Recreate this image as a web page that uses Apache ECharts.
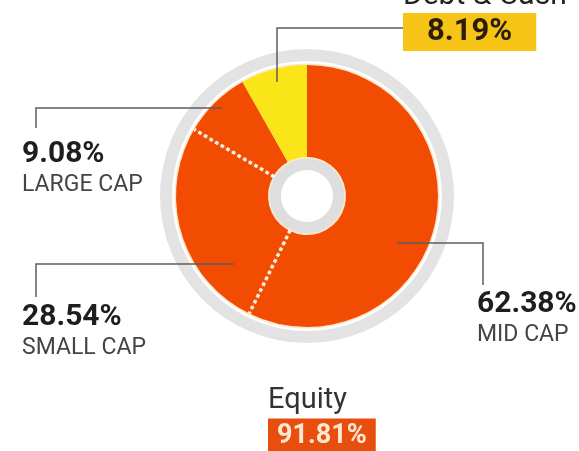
<!DOCTYPE html>
<html>
<head>
<meta charset="utf-8">
<script src="https://cdn.jsdelivr.net/npm/echarts@6/dist/echarts.min.js"></script>
<style>
  html, body { margin: 0; padding: 0; background: #ffffff; }
  #chart { width: 579px; height: 451px; }
</style>
</head>
<body>
<div id="chart"></div>
<script>
// Portfolio split: equity vs debt & cash, with the equity part broken down by market cap
const assetClasses = ['Equity', 'Debt & Cash'];
const assetShares = [91.81, 8.19];               // % of the whole portfolio
const capSegments = ['MID CAP', 'SMALL CAP', 'LARGE CAP'];
const capShares = [62.38, 28.54, 9.08];          // % of the equity part

const FONT = 'Roboto, "Noto Sans", sans-serif';
const ORANGE = '#f14c02';
const YELLOW = '#fae519';
const CENTER = [307, 196];
const R_IN = 39, R_OUT = 131;

// slice values expressed as share of the whole portfolio
const equityShare = assetShares[0];
const pieData = capSegments.map((name, i) => ({
  name: name,
  value: capShares[i] * equityShare / 100,
  labelValue: capShares[i],
  itemStyle: { color: ORANGE }
}));
pieData.push({
  name: assetClasses[1],
  value: assetShares[1],
  labelValue: assetShares[1],
  itemStyle: { color: YELLOW }
});

// where each annotation sits and how its leader line is routed
const labelSpots = {
  'MID CAP':     { x: 477, y: 287, line: [[397, 243], [483, 243], [483, 285]] },
  'SMALL CAP':   { x: 22,  y: 300, line: [[234, 264], [36, 264], [36, 297]] },
  'LARGE CAP':   { x: 22,  y: 137, line: [[222, 108], [36, 108], [36, 128]] },
  'Debt & Cash': { x: 403, y: 13,  line: [[277, 82], [277, 28], [403, 28]] }
};

// label-only copy of the slices, drawn above the donut so leader lines run over it
const labelData = pieData.map(d => {
  const item = {
    name: d.name,
    value: d.value,
    labelValue: d.labelValue,
    itemStyle: { color: 'rgba(0,0,0,0)' }
  };
  if (d.name === assetClasses[1]) {
    item.label = {
      formatter: p => '{box|' + p.data.labelValue.toFixed(2) + '%}',
      backgroundColor: '#f5c417',
      padding: [4, 24, 4, 24]
    };
  }
  return item;
});

// dotted separators between the cap segments (cumulative position, 0-100)
const total = pieData.reduce((s, d) => s + d.value, 0);
const boundaries = [];
let acc = 0;
for (let i = 0; i < capSegments.length - 1; i++) {
  acc += pieData[i].value;
  boundaries.push(acc / total * 100);
}
const rInFrac = (R_IN - 1) / R_OUT;
const separatorSeries = boundaries.map(a => ({
  type: 'line',
  coordinateSystem: 'polar',
  data: [[rInFrac, a], [1.01, a]],
  symbol: 'none',
  silent: true,
  z: 10,
  lineStyle: { color: '#fff4e4', width: 3.5, type: [3.5, 3], cap: 'butt' }
}));

const ring = (radius, color) => ({
  type: 'pie', silent: true, center: CENTER, radius: radius,
  label: { show: false }, labelLine: { show: false },
  emphasis: { disabled: true },
  data: [{ value: 1, itemStyle: { color: color } }], z: 1
});

const chart = echarts.init(document.getElementById('chart'), null, { renderer: 'canvas' });
chart.setOption({
  animation: false,
  backgroundColor: '#ffffff',
  title: [
    {
      left: 263, top: 376,
      text: '{name|' + assetClasses[0] + '}\n{box|' + assetShares[0].toFixed(2) + '%}',
      textStyle: {
        fontWeight: 'normal',
        rich: {
          name: { fontFamily: FONT, fontSize: 29, fontWeight: 'normal', color: '#333333', lineHeight: 40 },
          box: { fontFamily: FONT, fontSize: 27, fontWeight: 'bold', color: '#fde9d3',
                 backgroundColor: '#e84f0e', padding: [4, 9, 4, 9], lineHeight: 30 }
        }
      }
    },
    {
      left: 398, top: -24,
      text: assetClasses[1],
      textStyle: { fontFamily: FONT, fontSize: 30, fontWeight: 'normal', color: '#222222' }
    }
  ],
  polar: { center: CENTER, radius: R_OUT },
  angleAxis: { type: 'value', min: 0, max: 100, startAngle: 90, clockwise: true, show: false },
  radiusAxis: { type: 'value', min: 0, max: 1, show: false },
  series: [
    ring([135, 147], '#e3e3e3'),              // outer grey track
    ring([R_OUT, R_OUT + 1.5], '#fde6c8'),    // cream rim outside the donut
    ring([R_IN - 1.5, R_IN], '#fde6c8'),      // cream rim around the hole
    ring([26, R_IN - 1.5], '#dedede'),        // grey hub
    // main donut
    {
      type: 'pie',
      center: CENTER,
      radius: [R_IN, R_OUT],
      startAngle: 90,
      clockwise: true,
      z: 2,
      silent: true,
      emphasis: { disabled: true },
      label: { show: false },
      labelLine: { show: false },
      data: pieData
    },
    ...separatorSeries,
    // labels and leader lines
    {
      type: 'pie',
      center: CENTER,
      radius: [R_IN, R_OUT],
      startAngle: 90,
      clockwise: true,
      avoidLabelOverlap: false,
      silent: true,
      z: 20,
      emphasis: { disabled: true },
      label: {
        show: true,
        position: 'outside',
        alignTo: 'none',
        formatter: p => '{v|' + p.data.labelValue.toFixed(2) + '%}\n{n|' + p.name + '}',
        rich: {
          v: { fontFamily: FONT, fontSize: 30, fontWeight: 'bold', color: '#1e1e1e', lineHeight: 34 },
          n: { fontFamily: FONT, fontSize: 23, color: '#444444', lineHeight: 28 },
          box: { fontFamily: FONT, fontSize: 31, fontWeight: 'bold', color: '#2b1c0c', lineHeight: 30 }
        }
      },
      labelLine: { show: true, smooth: false, lineStyle: { color: '#5e5e5e', width: 1.5 } },
      labelLayout: params => {
        const s = labelSpots[labelData[params.dataIndex].name];
        return { x: s.x, y: s.y, align: 'left', verticalAlign: 'top', labelLinePoints: s.line };
      },
      data: labelData
    }
  ]
});
</script>
</body>
</html>
